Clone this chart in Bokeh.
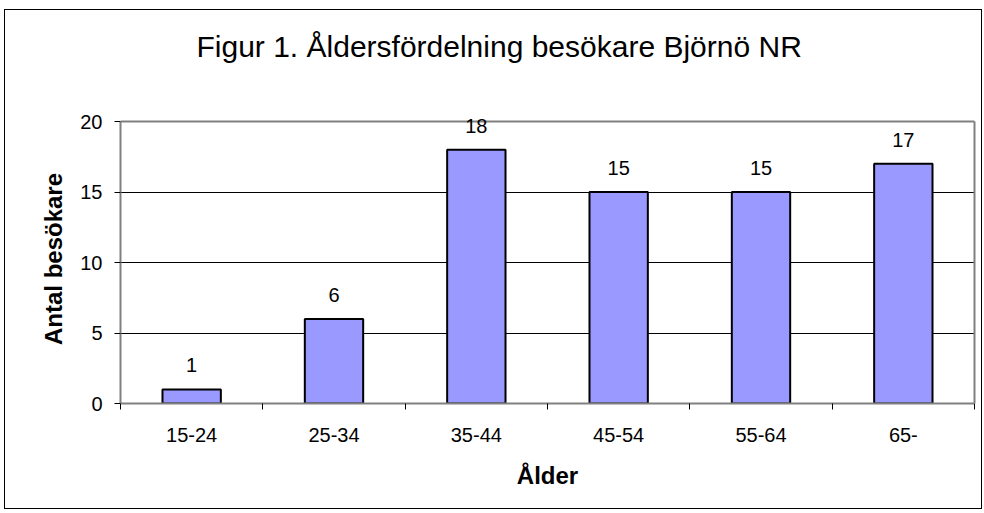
from bokeh.plotting import figure
from bokeh.models import Range1d, FixedTicker, LabelSet, ColumnDataSource, Span, LinearAxis, Title
from bokeh.core.properties import value
from bokeh.embed import file_html
from bokeh.resources import INLINE

# ---- data ----
title_text = "Figur 1. Åldersfördelning besökare Björnö NR"
x_label = "Ålder"
y_label = "Antal besökare"
categories = ["15-24", "25-34", "35-44", "45-54", "55-64", "65-"]
values = [1, 6, 18, 15, 15, 17]
y_ticks = [0, 5, 10, 15, 20]

FONT = "Liberation Sans"
FRAME_GRAY = "#808080"

positions = list(range(1, len(categories) + 1))
boundaries = [i + 0.5 for i in range(0, len(categories) + 1)]
y_lo, y_hi = y_ticks[0], y_ticks[-1]

p = figure(
    width=978, height=500, margin=(9, 0, 0, 4),
    x_range=Range1d(0.5, len(categories) + 0.5),
    # a little head-room above the top tick so value labels are not clipped
    y_range=Range1d(y_lo, y_hi + 0.5),
    output_backend="svg", toolbar_location=None,
    min_border_left=115, min_border_right=9,
    min_border_top=104, min_border_bottom=107,
    background_fill_color="white", border_fill_color="white",
    styles={"border": "1px solid black"},
)
p.outline_line_color = None

# title
p.title.text = title_text
p.title.align = "left"
p.title.offset = 76
p.title.standoff = 0
p.title.text_font = FONT
p.title.text_font_size = "30px"
p.title.text_font_style = "normal"
p.title.text_color = "black"

# empty spacer between title and plot area
spacer = Title(text=" ", text_font_size="10px", standoff=39)
p.add_layout(spacer, "above")

# grid
p.xgrid.grid_line_color = None
p.ygrid.ticker = FixedTicker(ticks=y_ticks)
p.ygrid.grid_line_color = "black"
p.ygrid.grid_line_width = 1

# top border of plot area (at the top tick)
p.add_layout(Span(location=y_hi, dimension="width",
                  line_color=FRAME_GRAY, line_width=2))

src = ColumnDataSource(dict(x=positions, top=values, label=[str(v) for v in values]))
p.vbar(x="x", top="top", width=0.41, source=src,
       fill_color="#9999FF", line_color="black", line_width=2)

labels = LabelSet(x="x", y="top", text="label", source=src,
                  text_align="center", text_baseline="alphabetic", y_offset=17,
                  text_font=value(FONT), text_font_size=value("20px"),
                  text_color="black", level="overlay")
p.add_layout(labels)

# x axis
xa = p.xaxis[0]
xa.ticker = FixedTicker(ticks=positions, minor_ticks=boundaries)
xa.major_label_overrides = {pos: cat for pos, cat in zip(positions, categories)}
xa.major_tick_out = 0
xa.major_tick_in = 0
xa.minor_tick_out = 6
xa.minor_tick_in = 0
xa.minor_tick_line_color = "black"
xa.axis_line_color = FRAME_GRAY
xa.axis_line_width = 2
xa.major_label_standoff = 18
xa.major_label_text_font = FONT
xa.major_label_text_font_size = "20px"
xa.major_label_text_color = "black"
xa.axis_label = x_label
xa.axis_label_text_font = FONT
xa.axis_label_text_font_size = "24px"
xa.axis_label_text_font_style = "bold"
xa.axis_label_text_color = "black"
xa.axis_label_standoff = 17

# y axis
ya = p.yaxis[0]
ya.ticker = FixedTicker(ticks=y_ticks)
ya.bounds = (y_lo, y_hi)
ya.major_tick_out = 6
ya.major_tick_in = 0
ya.major_tick_line_color = "black"
ya.minor_tick_line_color = None
ya.axis_line_color = FRAME_GRAY
ya.axis_line_width = 2
ya.major_label_standoff = 12
ya.major_label_text_font = FONT
ya.major_label_text_font_size = "20px"
ya.major_label_text_color = "black"
ya.axis_label = y_label
ya.axis_label_text_font = FONT
ya.axis_label_text_font_size = "24px"
ya.axis_label_text_font_style = "bold"
ya.axis_label_text_color = "black"
ya.axis_label_standoff = 10

# right border of plot area
ra = LinearAxis(bounds=(y_lo, y_hi), ticker=FixedTicker(ticks=[]),
                axis_line_color=FRAME_GRAY, axis_line_width=2,
                major_tick_line_color=None, minor_tick_line_color=None,
                major_label_text_font_size="0px")
p.add_layout(ra, "right")

open("out.html", "w").write(file_html(p, INLINE))
